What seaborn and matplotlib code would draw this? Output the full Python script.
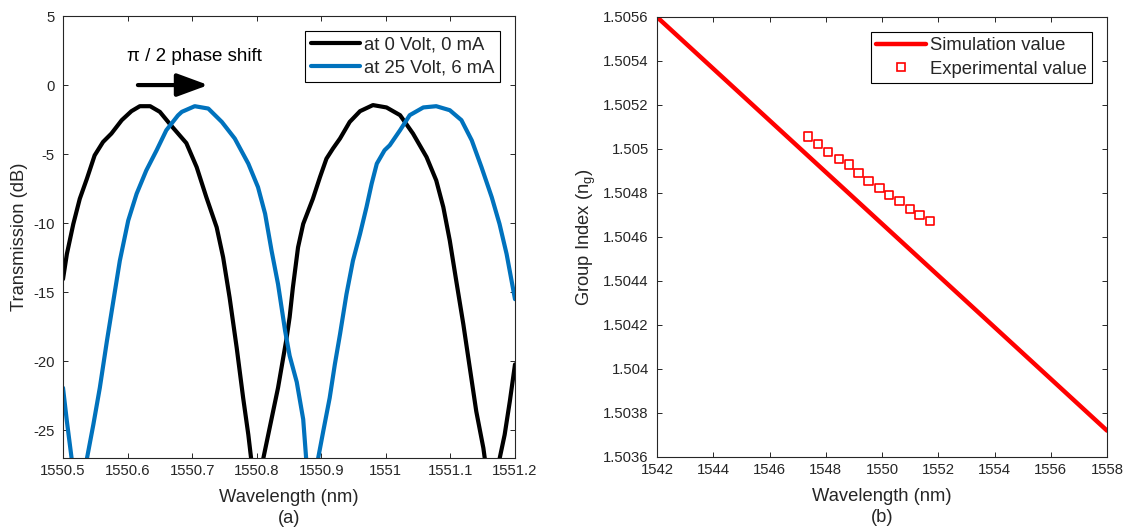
import numpy as np
import pandas as pd
import matplotlib
matplotlib.use("Agg")
import matplotlib.pyplot as plt
from matplotlib.lines import Line2D
from matplotlib.ticker import MultipleLocator, FuncFormatter
import seaborn as sns

# ---------------- data ----------------
# Transmission spectra (wavelength in nm, transmission in dB); NaN marks where
# the trace leaves the plotted range at the resonance dips.
wl_0v = [1550.500, 1550.506, 1550.516, 1550.526, 1550.537, 1550.549, 1550.562,
         1550.575, 1550.591, 1550.606, 1550.619, 1550.635, 1550.650, 1550.666,
         1550.691, 1550.707, 1550.722, 1550.738, 1550.748, 1550.758, 1550.769,
         1550.779, 1550.787, 1550.792, np.nan,
         1550.809, 1550.820, 1550.833, 1550.846, 1550.851, 1550.856, 1550.864,
         1550.872, 1550.880, 1550.887, 1550.898, 1550.908, 1550.918, 1550.929,
         1550.944, 1550.960, 1550.980, 1551.001, 1551.022, 1551.042, 1551.063,
         1551.078, 1551.089, 1551.099, 1551.109, 1551.120, 1551.130, 1551.140,
         1551.151, 1551.154, np.nan,
         1551.175, 1551.184, 1551.192, 1551.200]
db_0v = [-14.05, -12.23, -10.05, -8.23, -6.78, -5.09, -4.12,
         -3.51, -2.54, -1.89, -1.53, -1.53, -1.94, -2.85,
         -4.20, -5.94, -8.12, -10.30, -12.47, -15.38, -19.02,
         -22.65, -25.31, -27.30, np.nan,
         -27.30, -24.83, -21.92, -18.40, -16.80, -14.66, -11.75,
         -10.05, -9.08, -8.23, -6.66, -5.33, -4.60, -3.87,
         -2.67, -1.89, -1.45, -1.62, -2.18, -3.51, -5.21,
         -6.90, -8.84, -11.26, -14.17, -17.32, -20.47, -23.62,
         -26.28, -27.30, np.nan,
         -27.30, -25.31, -22.89, -20.22]

wl_25v = [1550.500, 1550.506, 1550.513, 1550.514, np.nan,
          1550.536, 1550.547, 1550.557, 1550.568, 1550.578, 1550.588, 1550.601,
          1550.614, 1550.629, 1550.645, 1550.660, 1550.678, 1550.684, 1550.704,
          1550.725, 1550.746, 1550.766, 1550.787, 1550.802, 1550.813, 1550.823,
          1550.833, 1550.844, 1550.851, 1550.862, 1550.872, 1550.877, np.nan,
          1550.894, 1550.903, 1550.913, 1550.921, 1550.929, 1550.939, 1550.949,
          1550.960, 1550.970, 1550.978, 1550.986, 1550.998, 1551.006, 1551.022,
          1551.037, 1551.058, 1551.078, 1551.099, 1551.117, 1551.133, 1551.148,
          1551.164, 1551.176, 1551.187, 1551.200]
db_25v = [-21.92, -24.34, -26.90, -27.30, np.nan,
          -27.30, -24.58, -21.92, -18.53, -15.62, -12.72, -9.81,
          -7.87, -6.18, -4.72, -3.27, -2.20, -1.94, -1.53,
          -1.70, -2.67, -3.87, -5.69, -7.39, -9.32, -11.99,
          -14.41, -17.80, -19.60, -21.50, -24.20, -27.30, np.nan,
          -27.30, -25.07, -22.65, -20.22, -18.04, -15.14, -12.72,
          -10.78, -8.84, -7.14, -5.69, -4.72, -4.36, -3.27,
          -2.18, -1.62, -1.53, -1.82, -2.54, -4.00, -5.93,
          -8.12, -10.05, -12.23, -15.50]

series_labels = ["at 0 Volt, 0 mA", "at 25 Volt, 6 mA"]

# Group index versus wavelength
sim_wl = [1542.0, 1558.0]
sim_ng = [1.50560, 1.50372]
exp_wl = [1547.37, 1547.72, 1548.09, 1548.46, 1548.83, 1549.16, 1549.52,
          1549.91, 1550.24, 1550.62, 1551.00, 1551.33, 1551.70]
exp_ng = [1.505057, 1.505024, 1.504986, 1.504955, 1.504930, 1.504892, 1.504856,
          1.504823, 1.504791, 1.504765, 1.504727, 1.504701, 1.504674]
group_labels = ["Simulation value", "Experimental value"]

# ---------------- styling ----------------
sns.set_theme(style="ticks")
plt.rcParams["font.family"] = ["Liberation Sans", "DejaVu Sans"]
plt.rcParams["axes.unicode_minus"] = False
plt.rcParams["mathtext.default"] = "regular"

AX_COLOR = "#262626"
BLACK = "#000000"
BLUE = "#0072BD"
RED = "#FF0000"
TICK_FS = 10.7
LABEL_FS = 13.2
LEGEND_FS = 13.3


def style_axes(ax):
    for sp in ax.spines.values():
        sp.set_color(AX_COLOR)
        sp.set_linewidth(0.8)
        sp.set_visible(True)
    ax.tick_params(direction="in", top=True, right=True, length=3.5,
                   width=0.7, color=AX_COLOR, labelcolor=AX_COLOR,
                   labelsize=TICK_FS)
    ax.tick_params(axis="x", pad=4)
    ax.tick_params(axis="y", pad=6)


def to_long(wl, db, name):
    rows, seg = [], 0
    for x, y in zip(wl, db):
        if np.isnan(x) or np.isnan(y):
            seg += 1
            continue
        rows.append({"wl": x, "db": y, "series": name, "seg": f"{name}#{seg}"})
    return rows


def boxed_legend(ax, handles, labels):
    leg = ax.legend(handles, labels, loc="upper right", fontsize=LEGEND_FS,
                    frameon=True, fancybox=False, framealpha=1,
                    edgecolor=BLACK, handlelength=2.7, handletextpad=0.2,
                    labelspacing=0.35, borderpad=0.3, borderaxespad=0.8)
    leg.get_frame().set_linewidth(0.8)
    return leg


fig = plt.figure(figsize=(11.25, 5.32), dpi=100)
ax1 = fig.add_axes([63 / 1125, 74 / 532, 452 / 1125, 442 / 532])
ax2 = fig.add_axes([657 / 1125, 75 / 532, 450 / 1125, 440 / 532])

# ---------------- (a) transmission ----------------
spec = pd.DataFrame(to_long(wl_0v, db_0v, series_labels[0]) +
                    to_long(wl_25v, db_25v, series_labels[1]))
sns.lineplot(data=spec, x="wl", y="db", hue="series", units="seg",
             estimator=None, sort=False, linewidth=3,
             palette={series_labels[0]: BLACK, series_labels[1]: BLUE},
             legend=False, ax=ax1)
ax1.set_xlim(1550.5, 1551.2)
ax1.set_ylim(-27, 5)
ax1.xaxis.set_major_locator(MultipleLocator(0.1))
ax1.yaxis.set_major_locator(MultipleLocator(5))
ax1.xaxis.set_major_formatter(FuncFormatter(
    lambda v, p: f"{v:.1f}".rstrip("0").rstrip(".")))
ax1.yaxis.set_major_formatter(FuncFormatter(lambda v, p: f"{v:.0f}"))
ax1.set_xlabel("Wavelength (nm)\n(a)", fontsize=LABEL_FS, color=AX_COLOR,
               linespacing=1.3, labelpad=8)
ax1.set_ylabel("Transmission (dB)", fontsize=LABEL_FS, color=AX_COLOR,
               labelpad=4)
style_axes(ax1)

ax1.annotate("", xy=(1550.725, 0.0), xytext=(1550.616, 0.0),
             arrowprops=dict(arrowstyle="-|>,head_length=0.95,head_width=0.35",
                             lw=3, color=BLACK, shrinkA=0, shrinkB=0,
                             mutation_scale=20))
ax1.text(1550.703, 2.1, "π / 2 phase shift", fontsize=13.5, color=BLACK,
         ha="center", va="center")

boxed_legend(ax1, [Line2D([], [], color=BLACK, lw=3),
                   Line2D([], [], color=BLUE, lw=3)], series_labels)

# ---------------- (b) group index ----------------
sim = pd.DataFrame({"wl": sim_wl, "ng": sim_ng})
exp = pd.DataFrame({"wl": exp_wl, "ng": exp_ng})
sns.lineplot(data=sim, x="wl", y="ng", color=RED, linewidth=3.2, ax=ax2,
             legend=False)
sns.scatterplot(data=exp, x="wl", y="ng", marker="s", s=36, color=RED,
                facecolor="none", edgecolor=RED, linewidth=1.2, ax=ax2,
                legend=False)
ax2.set_xlim(1542, 1558)
ax2.set_ylim(1.5036, 1.5056)
ax2.xaxis.set_major_locator(MultipleLocator(2))
ax2.yaxis.set_major_locator(MultipleLocator(0.0002))
ax2.xaxis.set_major_formatter(FuncFormatter(lambda v, p: f"{v:.0f}"))
ax2.yaxis.set_major_formatter(FuncFormatter(
    lambda v, p: f"{v:.4f}".rstrip("0").rstrip(".")))
ax2.set_xlabel("Wavelength (nm)\n(b)", fontsize=LABEL_FS, color=AX_COLOR,
               linespacing=1.3, labelpad=8)
ax2.set_ylabel("Group Index (n$_g$)", fontsize=LABEL_FS, color=AX_COLOR,
               labelpad=4)
style_axes(ax2)

boxed_legend(ax2, [Line2D([], [], color=RED, lw=3.2),
                   Line2D([], [], color=RED, lw=0, marker="s", markersize=6,
                          markerfacecolor="none", markeredgewidth=1.2)],
             group_labels)

fig.savefig("out.png", dpi=100, facecolor="white")
